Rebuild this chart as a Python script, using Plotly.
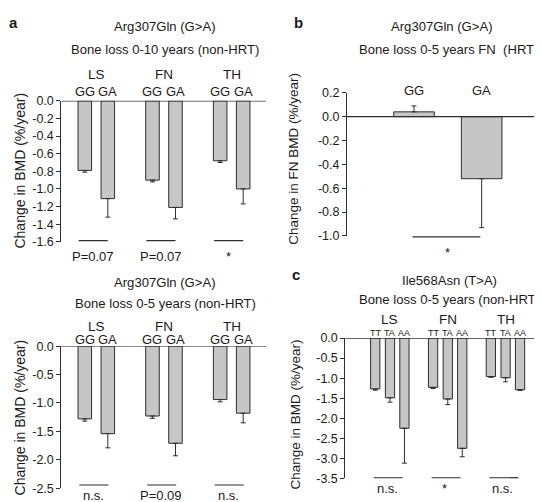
import plotly.graph_objects as go

# ---------------- data ----------------
sites = ["LS", "FN", "TH"]
geno_arg = ["GG", "GA"]
geno_ile = ["TT", "TA", "AA"]

# Panel a (top): Arg307Gln, bone loss 0-10 years (non-HRT)
a10_gg = [-0.79, -0.90, -0.68]
a10_gg_se = [0.02, 0.02, 0.02]
a10_ga = [-1.11, -1.21, -1.00]
a10_ga_se = [0.21, 0.13, 0.17]
a10_sig = ["P=0.07", "P=0.07", "*"]
a10_ticks = [0.0, -0.2, -0.4, -0.6, -0.8, -1.0, -1.2, -1.4, -1.6]

# Panel a (bottom): Arg307Gln, bone loss 0-5 years (non-HRT)
a5_gg = [-1.28, -1.23, -0.94]
a5_gg_se = [0.04, 0.04, 0.04]
a5_ga = [-1.54, -1.71, -1.18]
a5_ga_se = [0.25, 0.22, 0.17]
a5_sig = ["n.s.", "P=0.09", "n.s."]
a5_ticks = [0.0, -0.5, -1.0, -1.5, -2.0, -2.5]

# Panel b: Arg307Gln, bone loss 0-5 years FN (HRT)
b_vals = [0.04, -0.52]
b_se = [0.05, 0.41]
b_sig = "*"
b_ticks = [0.2, 0.0, -0.2, -0.4, -0.6, -0.8, -1.0]

# Panel c: Ile568Asn, bone loss 0-5 years (non-HRT)
c_tt = [-1.27, -1.23, -0.96]
c_tt_se = [0.03, 0.03, 0.02]
c_ta = [-1.49, -1.52, -0.99]
c_ta_se = [0.11, 0.14, 0.10]
c_aa = [-2.25, -2.75, -1.29]
c_aa_se = [0.87, 0.21, 0.02]
c_sig = ["n.s.", "*", "n.s."]
c_ticks = [0.0, -0.5, -1.0, -1.5, -2.0, -2.5, -3.0, -3.5]

# ---------------- style ----------------
W, H = 542, 502
FONT = "Liberation Sans, Arial, sans-serif"
TXT = "#1a1a1a"
FS = 13.5      # site labels
FG = 13        # genotype labels
FT = 13.1      # panel titles
FTICK = 12.5   # tick labels
FSIG = 13      # significance labels
BAR_FILL = "#c6c6c6"
EDGE = "#2e2e2e"


def PX(x):
    return x / W


def PY(y):
    return 1 - y / H


def err_dict(vals, se):
    up = [s if v > 0 else 0 for v, s in zip(vals, se)]
    dn = [s if v <= 0 else 0 for v, s in zip(vals, se)]
    return dict(type="data", symmetric=False, array=up, arrayminus=dn,
                color=EDGE, thickness=1, width=2.5)


fig = go.Figure()


def add_bars(xax, yax, series, offsets, width):
    xs, ys, es = [], [], []
    for (vals, se), off in zip(series, offsets):
        for i, v in enumerate(vals):
            xs.append(i + off)
            ys.append(v)
            es.append(se[i])
    fig.add_trace(go.Bar(
        x=xs, y=ys, width=width, xaxis=xax, yaxis=yax,
        marker=dict(color=BAR_FILL, line=dict(color=EDGE, width=1)),
        error_y=err_dict(ys, es), showlegend=False, hoverinfo="skip"))


# panel a-top
add_bars("x", "y", [(a10_gg, a10_gg_se), (a10_ga, a10_ga_se)], [-0.17, 0.17], 0.2)
# panel a-bottom
add_bars("x2", "y2", [(a5_gg, a5_gg_se), (a5_ga, a5_ga_se)], [-0.17, 0.17], 0.2)
# panel b
fig.add_trace(go.Bar(
    x=list(range(len(b_vals))), y=b_vals, width=0.6, xaxis="x3", yaxis="y3",
    marker=dict(color=BAR_FILL, line=dict(color=EDGE, width=1)),
    error_y=err_dict(b_vals, b_se), showlegend=False, hoverinfo="skip"))
# panel c
add_bars("x4", "y4", [(c_tt, c_tt_se), (c_ta, c_ta_se), (c_aa, c_aa_se)],
         [-0.255, 0.0, 0.25], 0.16)


def yaxis(domain, ticks, anchor):
    return dict(domain=domain, range=[min(ticks), max(ticks)], anchor=anchor,
                tickvals=ticks, ticktext=[f"{t:.1f}" for t in ticks],
                showline=True, linecolor=EDGE, linewidth=1,
                ticks="outside", ticklen=4, tickcolor=EDGE, tickwidth=1,
                showgrid=False, zeroline=False,
                tickfont=dict(family=FONT, size=FTICK, color=TXT), fixedrange=True)


def xaxis(domain, rng, anchor):
    return dict(domain=domain, range=rng, anchor=anchor, showline=False,
                showticklabels=False, ticks="", showgrid=False, zeroline=False,
                fixedrange=True)


fig.update_layout(
    width=W, height=H, margin=dict(l=0, r=0, t=0, b=0),
    paper_bgcolor="white", plot_bgcolor="white",
    font=dict(family=FONT, size=FS, color=TXT),
    barmode="overlay",
    xaxis=xaxis([PX(53.3), PX(258)], [-0.517, 2.507], "y"),
    yaxis=yaxis([PY(233.3), PY(88.3)], a10_ticks, "x"),
    xaxis2=xaxis([PX(53.3), PX(258)], [-0.517, 2.507], "y2"),
    yaxis2=yaxis([PY(486.7), PY(340.7)], a5_ticks, "x2"),
    xaxis3=xaxis([PX(339), 1.0], [-0.99, 2.01], "y3"),
    yaxis3=yaxis([PY(227.3), PY(80)], b_ticks, "x3"),
    xaxis4=xaxis([PX(337.3), 1.0], [-0.773, 2.768], "y4"),
    yaxis4=yaxis([PY(476.7), PY(332.3)], c_ticks, "x4"),
)

shapes = []
# zero lines
for xa, ya in [("x", "y"), ("x2", "y2"), ("x3", "y3"), ("x4", "y4")]:
    shapes.append(dict(type="line", xref=f"{xa} domain", yref=ya, x0=0, x1=1,
                       y0=0, y1=0, line=dict(color=EDGE, width=1.3)))

annotations = []


def txt(text, x, y, xref="paper", size=FS, xanchor="center", bold=False, angle=0):
    annotations.append(dict(
        text=f"<b>{text}</b>" if bold else text, x=x, y=PY(y), xref=xref,
        yref="paper", xanchor=xanchor, yanchor="middle", showarrow=False,
        borderpad=0, textangle=angle,
        font=dict(family=FONT, size=size, color=TXT)))


# panel letters
txt("a", PX(0), 8, xanchor="left", size=15, bold=True)
txt("b", PX(285), 8, xanchor="left", size=15, bold=True)
txt("c", PX(283), 267, xanchor="left", size=15, bold=True)

# titles
txt("Arg307Gln (G>A)", PX(157), 12, size=FT)
txt("Bone loss 0-10 years (non-HRT)", PX(157), 36, size=FT)
txt("Arg307Gln (G>A)", PX(434), 12, size=FT)
txt("Bone loss 0-5 years FN\u00a0 (HRT)", PX(440), 36, size=FT)
txt("Arg307Gln (G>A)", PX(157), 275, size=FT)
txt("Bone loss 0-5 years (non-HRT)", PX(157), 297, size=FT)
txt("Ile568Asn (T>A)", PX(441), 273, size=FT)
txt("Bone loss 0-5 years (non-HRT)", PX(441), 293, size=FT)

# y-axis titles
txt("Change in BMD (%/year)", PX(12), 160, size=14, angle=-90)
txt("Change in BMD (%/year)", PX(12), 414, size=14, angle=-90)
txt("Change in FN BMD (%/year)", PX(286), 148, size=13.5, angle=-90)
txt("Change in BMD (%/year)", PX(288), 411, size=13.5, angle=-90)

# category labels
for i, s in enumerate(sites):
    txt(s, i, 61, xref="x")
    txt(s, i, 320, xref="x2")
    txt(s, i, 313, xref="x4")
    for g, off in zip(geno_arg, [-0.17, 0.17]):
        txt(g, i + off, 79, xref="x", size=FG)
        txt(g, i + off, 333.5, xref="x2", size=FG)
    for g, off in zip(geno_ile, [-0.255, 0.0, 0.25]):
        txt(g, i + off, 327, xref="x4", size=9)
for j, g in enumerate(geno_arg):
    txt(g, j, 78, xref="x3", size=FG)

# significance lines and labels
for i in range(len(sites)):
    shapes.append(dict(type="line", xref="x", yref="paper", x0=i - 0.26, x1=i + 0.17,
                       y0=PY(232), y1=PY(232), line=dict(color=EDGE, width=1.2)))
    txt(a10_sig[i], i - 0.05, 248, xref="x", size=FSIG)
    shapes.append(dict(type="line", xref="x2", yref="paper", x0=i - 0.25, x1=i + 0.18,
                       y0=PY(483.5), y1=PY(483.5), line=dict(color=EDGE, width=1.2)))
    txt(a5_sig[i], i - 0.04, 494, xref="x2", size=FSIG)
    shapes.append(dict(type="line", xref="x4", yref="paper", x0=i - 0.28, x1=i + 0.22,
                       y0=PY(476), y1=PY(476), line=dict(color=EDGE, width=1.2)))
    txt(c_sig[i], i - 0.05, 487, xref="x4", size=FSIG)

shapes.append(dict(type="line", xref="x3", yref="paper", x0=-0.02, x1=0.98,
                   y0=PY(228.3), y1=PY(228.3), line=dict(color=EDGE, width=1.2)))
txt(b_sig, 0.49, 244, xref="x3", size=FSIG)

fig.update_layout(shapes=shapes, annotations=annotations)
fig.write_html("out.html")
